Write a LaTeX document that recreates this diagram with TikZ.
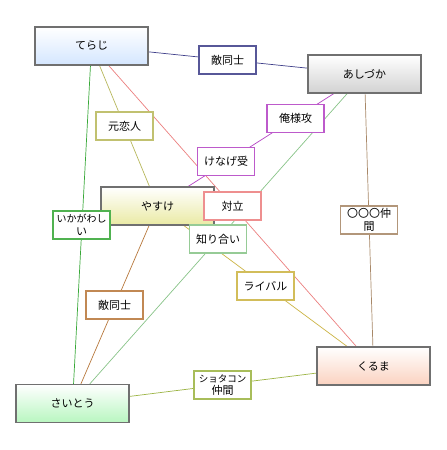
\documentclass[tikz,border=0pt]{standalone}
\usepackage{fontspec}
\newfontfamily\jpfont{Noto Sans CJK JP}
\usepackage{xcolor}
\usepackage{tikz}
\usetikzlibrary{positioning, backgrounds}

\definecolor{personline}{HTML}{707070}
\definecolor{terajifill}{HTML}{D4E6FF}
\definecolor{ashizukafill}{HTML}{D2D2D2}
\definecolor{yasukefill}{HTML}{EAEAA4}
\definecolor{kurumafill}{HTML}{FBD2C0}
\definecolor{saitoufill}{HTML}{B8F6C0}

\definecolor{navyline}{HTML}{40408A}
\definecolor{oliveline}{HTML}{B8B85C}
\definecolor{redline}{HTML}{EC8080}
\definecolor{purpleline}{HTML}{B444C4}
\definecolor{paleline}{HTML}{88C488}
\definecolor{tanline}{HTML}{A88868}
\definecolor{greenline}{HTML}{38A838}
\definecolor{brownline}{HTML}{B8783C}
\definecolor{goldline}{HTML}{CCB444}
\definecolor{limeline}{HTML}{9CB444}

\begin{document}
\begin{tikzpicture}[
  x=1pt, y=-1pt,
  font=\jpfont\fontsize{11}{12.5}\selectfont,
  person/.style={draw=personline, line width=1.3pt, minimum width=113pt, minimum height=38pt, inner sep=0pt},
  tag/.style={draw=#1!88!white, line width=1.1pt, fill=white, minimum width=57pt, minimum height=28pt, inner sep=1pt, align=center},
  rel/.style={draw=#1, line width=0.7pt}
]

\useasboundingbox (0,0) rectangle (447,450);

% ===== People =====
\node[person, top color=white, bottom color=terajifill] (teraji) at (91.5,46) {てらじ};
\node[person, top color=white, bottom color=ashizukafill] (ashizuka) at (364.5,74) {あしづか};
\node[person, top color=white, bottom color=yasukefill] (yasuke) at (157.5,206) {やすけ};
\node[person, top color=white, bottom color=kurumafill] (kuruma) at (373.5,366) {くるま};
\node[person, top color=white, bottom color=saitoufill] (saitou) at (72.5,403.5) {さいとう};

% ===== Relations =====
\node[tag=navyline] (tekiA) at (227.5,60) {敵同士};
\node[tag=oliveline] (motokoi) at (124.5,126) {元恋人};
\node[tag=purpleline] (oresama) at (295.5,118.5) {俺様攻};
\node[tag=purpleline] (kenage) at (226,161.5) {けなげ受};
\node[tag=redline] (tairitsu) at (232.5,206) {対立};
\node[tag=greenline] (ikagawashii) at (81.5,225) {{\fontsize{10}{11}\selectfont いかがわし}\\い};
\node[tag=paleline] (shiriai) at (218,239) {知り合い};
\node[tag=tanline] (marumaru) at (369,220) {〇〇〇仲\\間};
\node[tag=goldline] (rival) at (265.5,286) {ライバル};
\node[tag=brownline] (tekiB) at (114.5,305) {敵同士};
\node[tag=limeline] (shotacon) at (222.5,385) {{\fontsize{9.5}{10.5}\selectfont ショタコン}\\仲間};

% ===== Lines =====
\begin{scope}[on background layer]
\fill[white] (0,0) rectangle (447,450);
\draw[rel=navyline] (teraji) -- (ashizuka);
\draw[rel=oliveline] (teraji) -- (yasuke);
\draw[rel=redline] (teraji) -- (kuruma);
\draw[rel=greenline] (teraji) -- (saitou);
\draw[rel=purpleline] (ashizuka) -- (yasuke);
\draw[rel=paleline] (ashizuka) -- (saitou);
\draw[rel=tanline] (ashizuka) -- (kuruma);
\draw[rel=brownline] (yasuke) -- (saitou);
\draw[rel=goldline] (yasuke) -- (kuruma);
\draw[rel=limeline] (saitou) -- (kuruma);
\end{scope}

\end{tikzpicture}
\end{document}
